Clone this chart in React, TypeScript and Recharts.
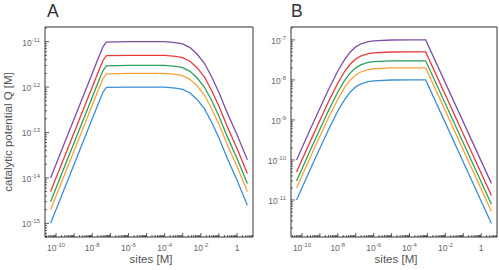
import React from 'react';
import { LineChart, Line, XAxis, YAxis, ReferenceArea } from 'recharts';

// sites [M] and catalytic potential Q [M]
const sitesA = [5e-11, 3e-10, 3e-9, 2.5e-8, 4e-8, 6e-8, 1e-6, 1e-5, 1e-4, 4e-4, 1e-3, 2.5e-3, 6e-3, 0.016, 0.04, 0.1, 0.3, 1, 3.7];
const blueA = [1e-15, 6e-15, 6e-14, 5e-13, 7.8e-13, 9.8e-13, 1e-12, 1e-12, 1e-12, 9.5e-13, 8.9e-13, 7.4e-13, 5.4e-13, 3.3e-13, 1.66e-13, 7.6e-14, 2.6e-14, 8.9e-15, 2.5e-15];
const orangeA = [2e-15, 1.2e-14, 1.2e-13, 1e-12, 1.56e-12, 1.96e-12, 2e-12, 2e-12, 2e-12, 1.9e-12, 1.78e-12, 1.48e-12, 1.08e-12, 6.6e-13, 3.3e-13, 1.52e-13, 5.2e-14, 1.78e-14, 5e-15];
const greenA = [3e-15, 1.8e-14, 1.8e-13, 1.5e-12, 2.34e-12, 2.94e-12, 3e-12, 3e-12, 3e-12, 2.85e-12, 2.67e-12, 2.22e-12, 1.62e-12, 9.9e-13, 5e-13, 2.28e-13, 7.8e-14, 2.67e-14, 7.5e-15];
const redA = [5e-15, 3e-14, 3e-13, 2.5e-12, 3.9e-12, 4.9e-12, 5e-12, 5e-12, 5e-12, 4.75e-12, 4.45e-12, 3.7e-12, 2.7e-12, 1.65e-12, 8.3e-13, 3.8e-13, 1.3e-13, 4.45e-14, 1.25e-14];
const purpleA = [1e-14, 6e-14, 6e-13, 5e-12, 7.8e-12, 9.8e-12, 1e-11, 1e-11, 1e-11, 9.5e-12, 8.9e-12, 7.4e-12, 5.4e-12, 3.3e-12, 1.66e-12, 7.6e-13, 2.6e-13, 8.9e-14, 2.5e-14];

const sitesB = [5e-11, 3e-10, 3e-9, 1e-8, 2.5e-8, 5e-8, 1e-7, 2e-7, 5e-7, 1e-6, 1e-5, 1e-4, 8e-4, 3.7];
const blueB = [1e-11, 6e-11, 5.7e-10, 1.67e-9, 3.3e-9, 5e-9, 6.7e-9, 8e-9, 9.1e-9, 9.5e-9, 9.95e-9, 1e-8, 1e-8, 2.6e-12];
const orangeB = [2e-11, 1.2e-10, 1.14e-9, 3.3e-9, 6.7e-9, 1e-8, 1.33e-8, 1.6e-8, 1.82e-8, 1.9e-8, 1.99e-8, 2e-8, 2e-8, 5.2e-12];
const greenB = [3e-11, 1.8e-10, 1.7e-9, 5e-9, 1e-8, 1.5e-8, 2e-8, 2.4e-8, 2.73e-8, 2.85e-8, 2.98e-8, 3e-8, 3e-8, 7.8e-12];
const redB = [5e-11, 3e-10, 2.85e-9, 8.3e-9, 1.67e-8, 2.5e-8, 3.33e-8, 4e-8, 4.55e-8, 4.75e-8, 4.98e-8, 5e-8, 5e-8, 1.3e-11];
const purpleB = [1e-10, 6e-10, 5.7e-9, 1.67e-8, 3.3e-8, 5e-8, 6.7e-8, 8e-8, 9.1e-8, 9.5e-8, 9.95e-8, 1e-7, 1e-7, 2.6e-11];

const colors = ['#3a8ed6', '#f8a33c', '#2ea05c', '#e83b3b', '#7d4ea6'];

// axis ranges (log) and labelled decades
const xDomain: [number, number] = [2.45e-11, 7.6];
const yDomainA: [number, number] = [5.0e-16, 2.1e-11];
const yDomainB: [number, number] = [1.19e-12, 2.1e-7];
const xLabelExps = [-10, -8, -6, -4, -2, 0];

function buildRows(sites: number[], series: number[][]) {
  return sites.map((s, i) => ({
    s,
    q1: series[0][i],
    q2: series[1][i],
    q3: series[2][i],
    q4: series[3][i],
    q5: series[4][i],
  }));
}

const rowsA = buildRows(sitesA, [blueA, orangeA, greenA, redA, purpleA]);
const rowsB = buildRows(sitesB, [blueB, orangeB, greenB, redB, purpleB]);

// major + minor log ticks inside a domain
function logTicks([lo, hi]: [number, number]) {
  const out: number[] = [];
  for (let d = Math.floor(Math.log10(lo)); d <= Math.ceil(Math.log10(hi)); d++) {
    for (let m = 1; m <= 9; m++) {
      const v = Number((m * Math.pow(10, d)).toPrecision(6));
      if (v >= lo && v <= hi) out.push(v);
    }
  }
  return out;
}

function decade(v: number) {
  const e = Math.log10(v);
  const r = Math.round(e);
  return Math.abs(e - r) < 1e-6 ? r : null;
}

function PowerLabel({ x, y, exp, anchor }: { x: number; y: number; exp: number; anchor: string }) {
  if (exp === 0) {
    return (
      <text x={x} y={y} textAnchor={anchor as any} fontSize={8.5} fill="#666">
        1
      </text>
    );
  }
  return (
    <text x={x} y={y} textAnchor={anchor as any} fontSize={8.5} fill="#666">
      10
      <tspan dy={-4} fontSize={6}>{`-${-exp}`}</tspan>
    </text>
  );
}

const XTick = (props: any) => {
  const { x, y, payload } = props;
  const exp = decade(payload.value);
  const major = exp !== null;
  return (
    <g>
      <line x1={x} x2={x} y1={y} y2={y - (major ? 4 : 2)} stroke="#333" strokeWidth={0.8} />
      {major && xLabelExps.includes(exp as number) && <PowerLabel x={x} y={y + 14} exp={exp as number} anchor="middle" />}
    </g>
  );
};

const YTick = (props: any) => {
  const { x, y, payload } = props;
  const exp = decade(payload.value);
  const major = exp !== null;
  return (
    <g>
      <line x1={x} x2={x + (major ? 4 : 2)} y1={y} y2={y} stroke="#333" strokeWidth={0.8} />
      {major && <PowerLabel x={x - 5} y={y + 4} exp={exp as number} anchor="end" />}
    </g>
  );
};

function Panel({ rows, yDomain, width, right }: { rows: any[]; yDomain: [number, number]; width: number; right: number }) {
  return (
    <LineChart width={width} height={270} data={rows} margin={{ top: 27, right, bottom: 0, left: 0 }}>
      <XAxis
        dataKey="s"
        type="number"
        scale="log"
        domain={xDomain}
        allowDataOverflow
        ticks={logTicks(xDomain)}
        interval={0}
        tick={<XTick />}
        tickLine={false}
        axisLine={false}
        tickSize={0}
        tickMargin={0}
        height={33}
      />
      <YAxis
        type="number"
        scale="log"
        domain={yDomain}
        allowDataOverflow
        ticks={logTicks(yDomain)}
        interval={0}
        tick={<YTick />}
        tickLine={false}
        axisLine={false}
        tickSize={0}
        tickMargin={0}
        width={45}
      />
      <ReferenceArea
        x1={xDomain[0]}
        x2={xDomain[1]}
        y1={yDomain[0]}
        y2={yDomain[1]}
        fill="none"
        fillOpacity={0}
        stroke="#333"
        strokeWidth={1}
      />
      {['q1', 'q2', 'q3', 'q4', 'q5'].map((k, i) => (
        <Line
          key={k}
          dataKey={k}
          type="linear"
          stroke={colors[i]}
          strokeWidth={1.3}
          dot={false}
          isAnimationActive={false}
        />
      ))}
    </LineChart>
  );
}

export default function App() {
  return (
    <div
      style={{
        position: 'absolute',
        left: 0,
        top: 0,
        width: 499,
        height: 270,
        background: '#fff',
        fontFamily: '"Liberation Sans", Arial, sans-serif',
      }}
    >
      <div style={{ position: 'absolute', left: 0, top: 0 }}>
        <Panel rows={rowsA} yDomain={yDomainA} width={260} right={7} />
      </div>
      <div style={{ position: 'absolute', left: 246, top: 0 }}>
        <Panel rows={rowsB} yDomain={yDomainB} width={253} right={2} />
      </div>
      <svg width={499} height={270} style={{ position: 'absolute', left: 0, top: 0, pointerEvents: 'none' }}>
        <text x={47} y={17} fontSize={17.5} fill="#333">A</text>
        <text x={291} y={17} fontSize={17.5} fill="#333">B</text>
        <text x={151} y={263} fontSize={11.5} fill="#555" textAnchor="middle">sites [M]</text>
        <text x={396} y={263} fontSize={11.5} fill="#555" textAnchor="middle">sites [M]</text>
        <text x={12} y={132} fontSize={11.5} fill="#555" textAnchor="middle" transform="rotate(-90 12 132)">
          catalytic potential Q [M]
        </text>
      </svg>
    </div>
  );
}
